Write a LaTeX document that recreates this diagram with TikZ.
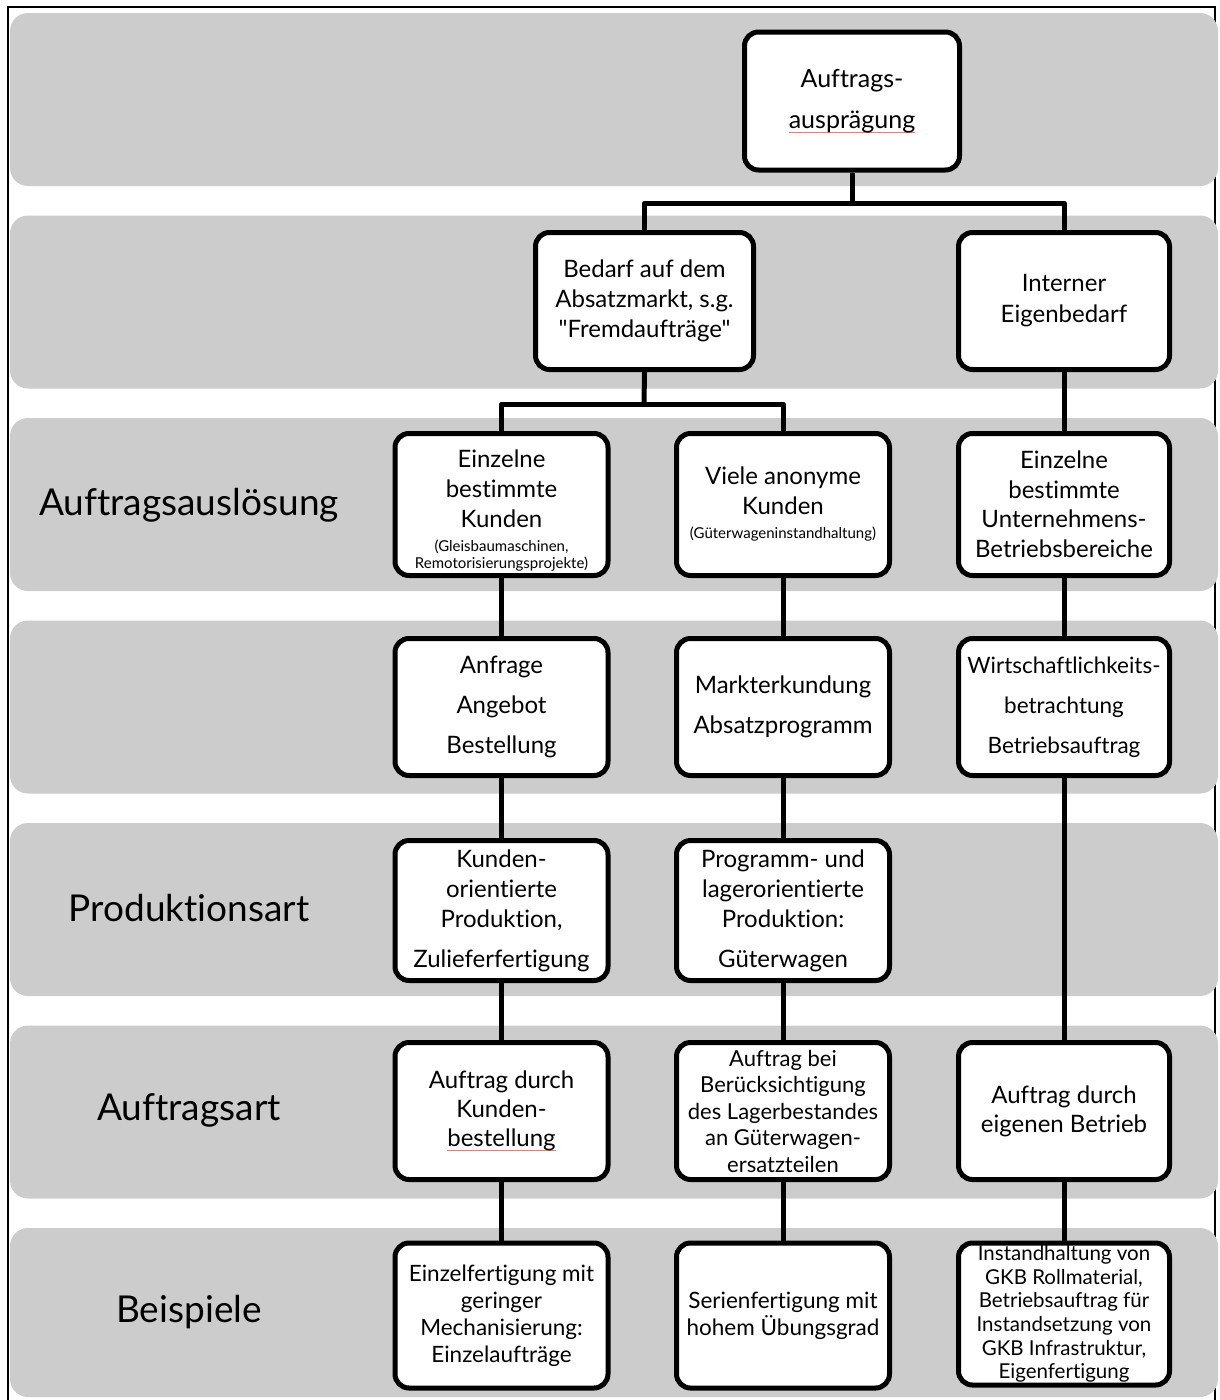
\documentclass[tikz,border=0pt]{standalone}
\usepackage{fontspec}
\setmainfont{Lato}[Ligatures={TeXOff,CommonOff}]
% thin red proofing mark under a word
\newcommand\spellmark[1]{\setbox0\hbox{#1}\rlap{\textcolor{red!55}{\rule[-0.32ex]{\wd0}{0.7pt}}}\box0}
\newcommand\smalltext{\fontsize{15}{17}\selectfont}
\definecolor{bandgray}{HTML}{CCCCCC}

\begin{document}
\begin{tikzpicture}[x=1pt,y=-1pt,
  band/.style={fill=bandgray, rounded corners=18pt},
  box/.style={draw, fill=white, line width=5pt, rounded corners=14pt,
    align=center, inner sep=0pt, font=\fontsize{24}{30}\selectfont},
  colw/.style={minimum width=213pt},
  rowh/.style={minimum height=#1},
  link/.style={line width=5pt, line join=round},
  rowlabel/.style={font=\fontsize{37}{42}\selectfont, anchor=center}
]
\useasboundingbox (0,0) rectangle (1219,1400);

% outer frame
\draw[line width=2pt] (8,1400) -- (8,7) -- (1215,7) -- (1215,1400);

% horizontal bands
\fill[band] (10,13)     rectangle (1218,186);
\fill[band] (10,215.5)  rectangle (1218,388.5);
\fill[band] (10,418)    rectangle (1218,591);
\fill[band] (10,620.5)  rectangle (1218,793.5);
\fill[band] (10,823)    rectangle (1218,996);
\fill[band] (10,1025.5) rectangle (1218,1198.5);
\fill[band] (10,1228)   rectangle (1218,1397);

% row labels
\node[rowlabel] (l3) at (189,505)  {Auftragsauslösung};
\node[rowlabel] (l5) at (189,908)  {Produktionsart};
\node[rowlabel] (l6) at (189,1110) {Auftragsart};
\node[rowlabel] (l7) at (189,1312) {Beispiele};

% junction points of the branching connectors
\coordinate (j1) at (852,203);
\coordinate (j2) at (644,404);

% level 1
\node[box, minimum width=215pt, rowh=138pt, font=\fontsize{25}{41}\selectfont] (top) at (852,101)
  {Auftrags-\\\spellmark{ausprägung}};

% level 2
\node[box, minimum width=218pt, rowh=137pt] (bedarf) at (644.5,301)
  {Bedarf auf dem\\Absatzmarkt, s.g.\\"Fremdaufträge"};
\node[box, minimum width=211pt, rowh=137pt, font=\fontsize{24}{31}\selectfont] (intern) at (1064,301)
  {Interner\\Eigenbedarf};

% level 3
\node[box, colw, rowh=142pt] (k1) at (501.5,504.5)
  {\\[-1pt]Einzelne\\bestimmte\\Kunden\\[-6pt]\smalltext (Gleisbaumaschinen,\\[-13pt]\smalltext Remotorisierungsprojekte)};
\node[box, colw, rowh=142pt] (k2) at (783,504.5)
  {Viele anonyme\\Kunden\\[-6pt]\smalltext (Güterwageninstandhaltung)};
\node[box, minimum width=211pt, rowh=142pt, font=\fontsize{24}{29.5}\selectfont] (k3) at (1064,504.5)
  {Einzelne\\bestimmte\\Unternehmens-\\Betriebsbereiche};

% level 4
\node[box, colw, rowh=137pt, font=\fontsize{24}{40}\selectfont] (a1) at (501.5,707)
  {Anfrage\\Angebot\\Bestellung};
\node[box, colw, rowh=137pt, font=\fontsize{24}{40}\selectfont] (a2) at (783,707)
  {Markterkundung\\Absatzprogramm};
\node[box, minimum width=211pt, rowh=137pt, font=\fontsize{22.5}{40}\selectfont] (a3) at (1064,707)
  {Wirtschaftlichkeits-\\betrachtung\\Betriebsauftrag};

% level 5
\node[box, colw, rowh=140pt] (p1) at (501.5,910.5)
  {Kunden-\\orientierte\\Produktion,\\[10pt]Zulieferfertigung};
\node[box, colw, rowh=140pt] (p2) at (783,910.5)
  {Programm- und\\lagerorientierte\\Produktion:\\[10pt]Güterwagen};

% level 6
\node[box, colw, rowh=137pt, font=\fontsize{24}{29}\selectfont] (o1) at (501.5,1111)
  {Auftrag durch\\Kunden-\\\spellmark{bestellung}};
\node[box, colw, rowh=137pt, font=\fontsize{22}{26.5}\selectfont] (o2) at (783,1111)
  {Auftrag bei\\Berücksichtigung\\des Lagerbestandes\\an Güterwagen-\\ersatzteilen};
\node[box, minimum width=211pt, rowh=137pt, font=\fontsize{24}{29}\selectfont] (o3) at (1064,1111)
  {Auftrag durch\\eigenen Betrieb};

% level 7
\node[box, colw, rowh=145pt, font=\fontsize{22.5}{27}\selectfont] (b1) at (501.5,1315.5)
  {Einzelfertigung mit\\geringer\\Mechanisierung:\\Einzelaufträge};
\node[box, colw, rowh=145pt, font=\fontsize{22.5}{27}\selectfont] (b2) at (783,1315.5)
  {Serienfertigung mit\\hohem Übungsgrad};
\node[box, minimum width=211pt, rowh=142pt, font=\fontsize{20.5}{23.6}\selectfont] (b3) at (1064,1314)
  {Instandhaltung von\\GKB Rollmaterial,\\Betriebsauftrag für\\Instandsetzung von\\GKB Infrastruktur,\\Eigenfertigung};

% connectors
\draw[link] (top.south) -- (j1);
\draw[link] (bedarf.north) |- (j1) -| (intern.north);
\draw[link] (bedarf.south) -- (j2);
\draw[link] (k1.north) |- (j2) -| (k2.north);
\draw[link] (k1) -- (a1);
\draw[link] (a1) -- (p1);
\draw[link] (p1) -- (o1);
\draw[link] (o1) -- (b1);
\draw[link] (k2) -- (a2);
\draw[link] (a2) -- (p2);
\draw[link] (p2) -- (o2);
\draw[link] (o2) -- (b2);
\draw[link] (intern) -- (k3);
\draw[link] (k3) -- (a3);
\draw[link] (a3) -- (o3);
\draw[link] (o3) -- (b3);
\end{tikzpicture}
\end{document}
